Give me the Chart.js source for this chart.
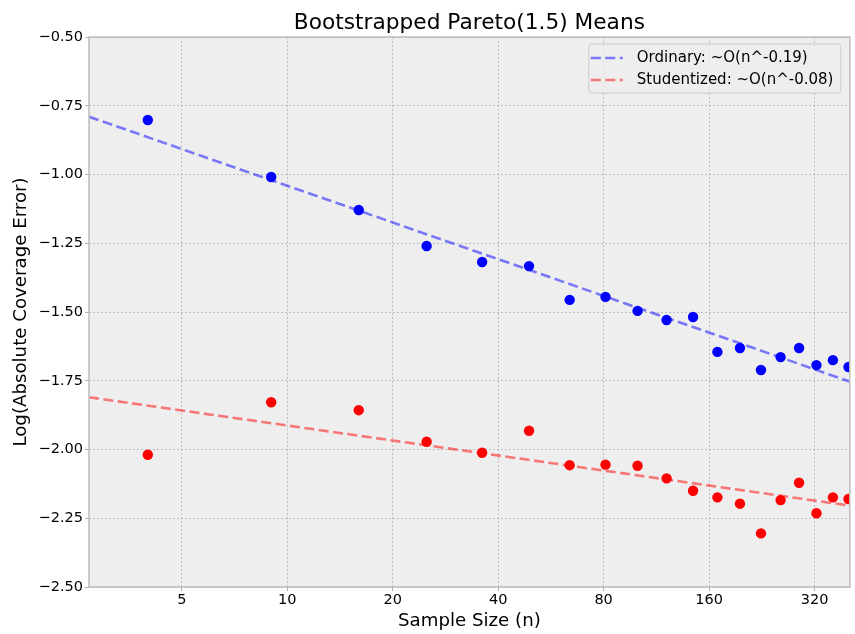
<!DOCTYPE html>
<html>
<head>
<meta charset="utf-8">
<title>Bootstrapped Pareto(1.5) Means</title>
<script src="https://cdn.jsdelivr.net/npm/chart.js@4/dist/chart.umd.min.js"></script>
<style>
    html, body { margin: 0; padding: 0; background: #fff; }
    #wrap { width: 855px; height: 634px; }
</style>
</head>
<body>
<div id="wrap"><canvas id="coverageChart" width="855" height="634"></canvas></div>
<script>
// --- data ---
const sampleSizes = [4, 9, 16, 25, 36, 49, 64, 81, 100, 121, 144, 169, 196, 225, 256, 289, 324, 361, 400];
const ordinaryError = [-0.802, -1.009, -1.129, -1.260, -1.318, -1.333, -1.456, -1.445, -1.496, -1.529,
                       -1.518, -1.645, -1.631, -1.711, -1.664, -1.631, -1.693, -1.675, -1.700];
const studentizedError = [-2.019, -1.828, -1.857, -1.972, -2.012, -1.932, -2.057, -2.055, -2.059, -2.105,
                          -2.150, -2.174, -2.197, -2.305, -2.184, -2.121, -2.232, -2.174, -2.180];

// fitted lines, drawn across the whole x range
const fitSizes = [2.718, 403.4];
const ordinaryFit = [-0.790, -1.753];
const studentizedFit = [-1.810, -2.204];

const xTicks = [5, 10, 20, 40, 80, 160, 320];
const labels = ['Ordinary: ~O(n^-0.19)', 'Studentized: ~O(n^-0.08)'];

const FONT = 'DejaVu Sans';
const toPoints = (xs, ys) => xs.map((x, i) => ({ x: x, y: ys[i] }));
const minus = v => v.toFixed(2).replace('-', '\u2212');

// plot background + frame
const panelPlugin = {
    id: 'panel',
    beforeDraw(chart) {
        const { ctx, chartArea: a } = chart;
        ctx.save();
        ctx.fillStyle = '#fff';
        ctx.fillRect(0, 0, chart.width, chart.height);
        ctx.fillStyle = '#eeeeee';
        ctx.fillRect(a.left, a.top, a.right - a.left, a.bottom - a.top);
        ctx.restore();
    },
    afterDatasetsDraw(chart) {
        const { ctx, chartArea: a } = chart;
        ctx.save();
        ctx.strokeStyle = '#bcbcbc';
        ctx.lineWidth = 1.5;
        ctx.strokeRect(a.left, a.top, a.right - a.left, a.bottom - a.top);
        ctx.restore();
    }
};

// title centred over the plot, legend inside the upper right corner
const textPlugin = {
    id: 'texts',
    afterDraw(chart) {
        const { ctx, chartArea: a } = chart;
        ctx.save();
        ctx.fillStyle = '#000';
        ctx.font = '21.7px "' + FONT + '"';
        ctx.textAlign = 'center';
        ctx.textBaseline = 'alphabetic';
        ctx.fillText('Bootstrapped Pareto(1.5) Means', (a.left + a.right) / 2, 28.5);

        // legend box
        const bx = a.right - 261, by = a.top + 7, bw = 252, bh = 49;
        ctx.beginPath();
        ctx.roundRect(bx, by, bw, bh, 3);
        ctx.fillStyle = 'rgba(238,238,238,0.8)';
        ctx.fill();
        ctx.strokeStyle = '#cccccc';
        ctx.lineWidth = 1;
        ctx.stroke();

        const lines = [chart.data.datasets[0], chart.data.datasets[1]];
        ctx.font = '15px "' + FONT + '"';
        ctx.textAlign = 'left';
        ctx.textBaseline = 'middle';
        lines.forEach((ds, i) => {
            const y = by + 14 + i * 22;
            ctx.beginPath();
            ctx.setLineDash(ds.borderDash);
            ctx.strokeStyle = ds.borderColor;
            ctx.lineWidth = ds.borderWidth;
            ctx.moveTo(bx + 2, y);
            ctx.lineTo(bx + 34, y);
            ctx.stroke();
            ctx.setLineDash([]);
            ctx.fillStyle = '#000';
            ctx.fillText(ds.label, bx + 48, y);
        });
        ctx.restore();
    }
};

const gridOpts = {
    color: '#b2b2b2',
    lineWidth: 0.8,
    drawTicks: true,
    tickLength: 4,
    tickColor: '#b2b2b2',
    tickBorderDash: [],
    tickWidth: 1
};

new Chart(document.getElementById('coverageChart'), {
    type: 'scatter',
    data: {
        datasets: [
            {
                type: 'line',
                label: labels[0],
                data: toPoints(fitSizes, ordinaryFit),
                borderColor: 'rgba(0,0,255,0.5)',
                borderWidth: 2.6,
                borderDash: [10, 4.5],
                pointRadius: 0,
                fill: false,
                clip: 0
            },
            {
                type: 'line',
                label: labels[1],
                data: toPoints(fitSizes, studentizedFit),
                borderColor: 'rgba(255,0,0,0.5)',
                borderWidth: 2.6,
                borderDash: [10, 4.5],
                pointRadius: 0,
                fill: false,
                clip: 0
            },
            {
                label: 'Ordinary',
                data: toPoints(sampleSizes, ordinaryError),
                backgroundColor: '#0000ff',
                pointRadius: 5.2,
                pointBorderWidth: 0,
                clip: 0
            },
            {
                label: 'Studentized',
                data: toPoints(sampleSizes, studentizedError),
                backgroundColor: '#ff0000',
                pointRadius: 5.2,
                pointBorderWidth: 0,
                clip: 0
            }
        ]
    },
    options: {
        responsive: false,
        devicePixelRatio: 1,
        animation: false,
        layout: { padding: { top: 37, right: 2, left: 0, bottom: 0 } },
        plugins: {
            legend: { display: false },
            title: { display: false },
            tooltip: { enabled: false }
        },
        scales: {
            x: {
                type: 'logarithmic',
                min: 2.718,
                max: 403.4,
                afterBuildTicks: scale => { scale.ticks = xTicks.map(v => ({ value: v })); },
                afterFit: scale => { scale.height = 47; },
                grid: gridOpts,
                border: { display: false, dash: [2, 2] },
                ticks: {
                    autoSkip: false,
                    maxRotation: 0,
                    padding: 1,
                    color: '#000',
                    font: { family: FONT, size: 14.5 },
                    callback: v => String(v)
                },
                title: {
                    display: true,
                    text: 'Sample Size (n)',
                    color: '#000',
                    font: { family: FONT, size: 18.2 },
                    padding: { top: 0, bottom: 2.2 }
                }
            },
            y: {
                min: -2.5,
                max: -0.5,
                afterFit: scale => { scale.width = 89; },
                grid: gridOpts,
                border: { display: false, dash: [2, 2] },
                ticks: {
                    stepSize: 0.25,
                    padding: 2,
                    color: '#000',
                    font: { family: FONT, size: 14.5 },
                    callback: v => minus(v)
                },
                title: {
                    display: true,
                    text: 'Log(Absolute Coverage Error)',
                    color: '#000',
                    font: { family: FONT, size: 18.2 },
                    padding: { top: 10, bottom: 0 }
                }
            }
        }
    },
    plugins: [panelPlugin, textPlugin]
});
</script>
</body>
</html>
